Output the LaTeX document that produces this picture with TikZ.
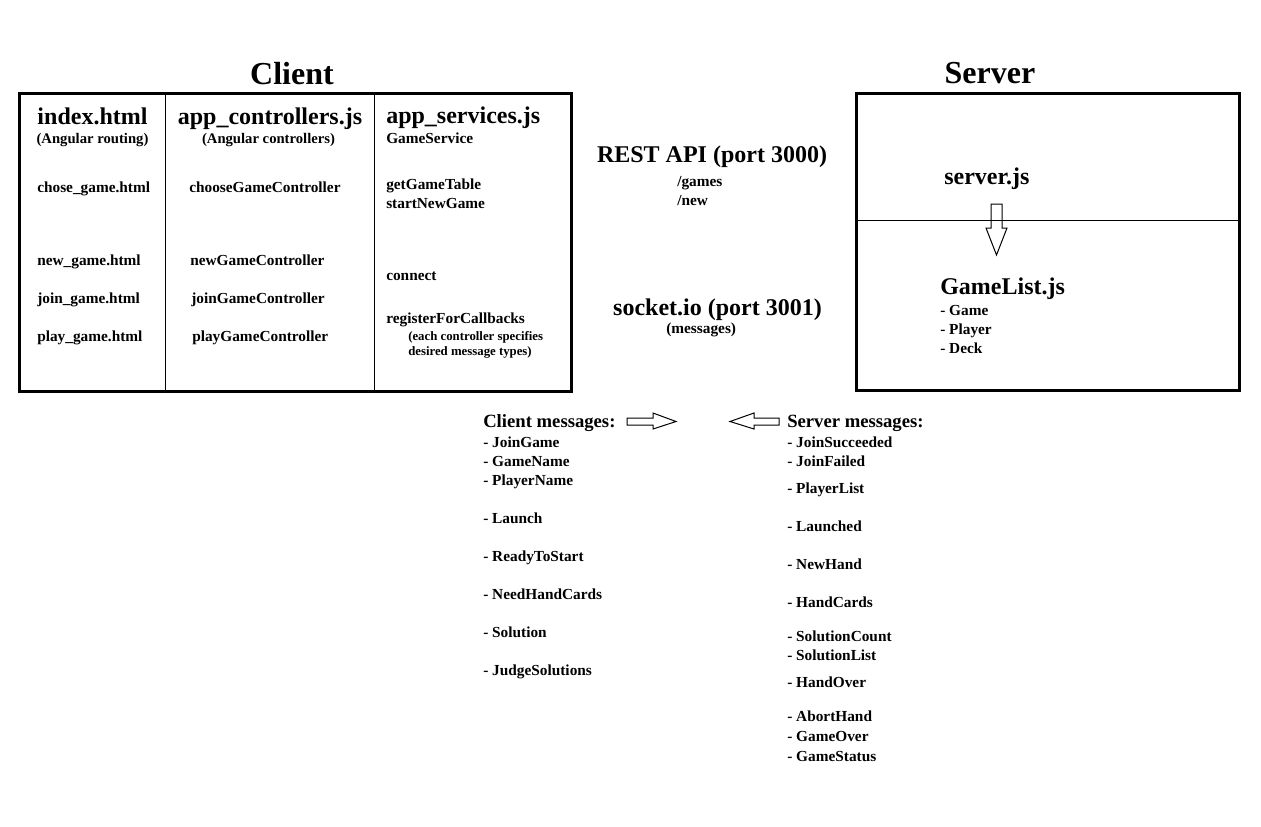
\documentclass[tikz,border=0pt]{standalone}
\usepackage{fontspec}
\setmainfont{Liberation Serif}
\begin{document}
\begin{tikzpicture}[x=0.75pt, y=-0.75pt,
  frame/.style={line width=2.25pt},
  rule/.style={line width=0.75pt},
  title/.style={anchor=base, inner sep=0pt, font=\fontsize{24}{28}\selectfont\bfseries},
  head/.style={anchor=base, inner sep=0pt, font=\fontsize{18}{21}\selectfont\bfseries},
  headw/.style={head, anchor=base west},
  sub/.style={anchor=base, inner sep=0pt, font=\fontsize{11}{13}\selectfont\bfseries},
  item/.style={anchor=base west, inner sep=0pt, font=\fontsize{11.5}{13}\selectfont\bfseries},
  note/.style={anchor=base west, inner sep=0pt, font=\fontsize{9.6}{11}\selectfont\bfseries},
  msghead/.style={anchor=base west, inner sep=0pt, font=\fontsize{14}{16}\selectfont\bfseries},
  blockarrow/.style={line width=0.75pt}]

\useasboundingbox (0,0) rectangle (1261,826);

% client side
\node[title] (client) at (292,84) {Client};
\draw[frame] (19,93) rectangle (571,391);
\draw[rule] (165,93) -- (165,391);
\draw[rule] (374,93) -- (374,391);

\node[head] (index) at (92.5,124) {index.html};
\node[sub] (routing) at (92.5,143) {(Angular routing)};
\node[head] (ctrls) at (270,124) {app\_controllers.js};
\node[sub] (angctrl) at (268.5,143) {(Angular controllers)};
\node[headw] (services) at (386,123) {app\_services.js};
\node[item] (gameservice) at (386,143) {GameService};

\foreach \y/\page/\ctrl/\dx in {192/chose\_game.html/chooseGameController/189,
                                 265/new\_game.html/newGameController/190,
                                 303/join\_game.html/joinGameController/191,
                                 341/play\_game.html/playGameController/192}
  {
  \node[item] (page\y) at (37,\y) {\page};
  \node[item] (ctrl\y) at (\dx,\y) {\ctrl};
  }

\node[item] (gettable) at (386,189) {getGameTable};
\node[item] (startnew) at (386,208) {startNewGame};
\node[item] (connect) at (386,280) {connect};
\node[item] (register) at (386,323) {registerForCallbacks};
\node[note] (note1) at (408,340) {(each controller specifies};
\node[note] (note2) at (408,355) {desired message types)};

% middle
\node[head] (rest) at (712,162) {REST API (port 3000)};
\node[item] (games) at (677,186) {/games};
\node[item] (new) at (677,205) {/new};
\node[head] (socket) at (717.5,315) {socket.io (port 3001)};
\node[item] (messages) at (666,333) {(messages)};

% server side
\node[title] (server) at (990,83) {Server};
\draw[frame] (856,93) rectangle (1239,390);
\draw[rule] (856,220) -- (1239,220);
\node[headw] (serverjs) at (944,184) {server.js};
\draw[blockarrow] (991,204) -- (1002,204) -- (1002,228) -- (1007,228) -- (996.5,255)
  -- (986,228) -- (991,228) -- cycle;
\node[headw] (gamelist) at (940,294) {GameList.js};
\foreach \y/\t in {315/Game, 334/Player, 353/Deck}
  \node[item] (gl\y) at (940,\y) {- \t};

% messages
\node[msghead] (climsg) at (483,427) {Client messages:};
\draw[blockarrow] (627,418) -- (653,418) -- (653,413) -- (676,421.5) -- (653,429)
  -- (653,425) -- (627,425) -- cycle;
\draw[blockarrow] (779,418) -- (754,418) -- (754,413) -- (730,421.5) -- (754,429)
  -- (754,425) -- (779,425) -- cycle;
\node[msghead] (srvmsg) at (787,427) {Server messages:};

\foreach \y/\t in {447/JoinGame, 466/GameName, 485/PlayerName, 523/Launch,
                   561/ReadyToStart, 599/NeedHandCards, 637/Solution, 675/JudgeSolutions}
  \node[item] (cm\y) at (483,\y) {- \t};

\foreach \y/\t in {447/JoinSucceeded, 466/JoinFailed, 493/PlayerList, 531/Launched,
                   569/NewHand, 607/HandCards, 641/SolutionCount, 660/SolutionList,
                   687/HandOver, 721/AbortHand, 741/GameOver, 761/GameStatus}
  \node[item] (sm\y) at (787,\y) {- \t};

\end{tikzpicture}
\end{document}
